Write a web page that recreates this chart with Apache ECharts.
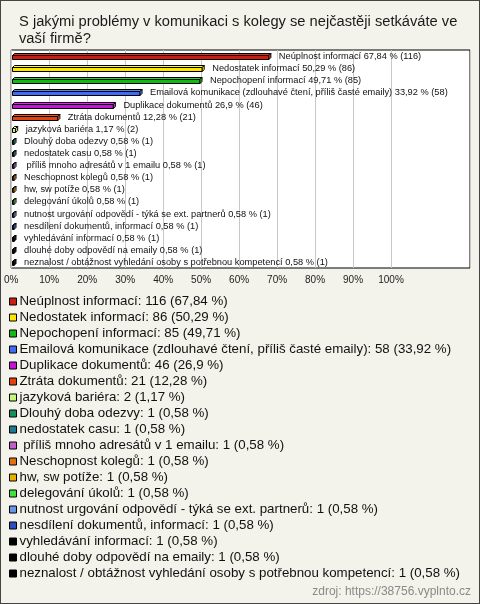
<!DOCTYPE html>
<html>
<head>
<meta charset="utf-8">
<script src="https://cdn.jsdelivr.net/npm/echarts@6/dist/echarts.min.js"></script>
<style>
  html, body { margin: 0; padding: 0; background: #f3f2eb; }
  #main { width: 478px; height: 602px; border: 1px solid #444; background: #f3f2eb; }
</style>
</head>
<body>
<div id="main"></div>
<script>
// odpovědi a počty
var answers = [
  'Neúplnost informací',
  'Nedostatek informací',
  'Nepochopení informací',
  'Emailová komunikace (zdlouhavé čtení, příliš časté emaily)',
  'Duplikace dokumentů',
  'Ztráta dokumentů',
  'jazyková bariéra',
  'Dlouhý doba odezvy',
  'nedostatek casu',
  ' příliš mnoho adresátů v 1 emailu',
  'Neschopnost kolegů',
  'hw, sw potíže',
  'delegování úkolů',
  'nutnost urgování odpovědí - týká se ext. partnerů',
  'nesdílení dokumentů, informací',
  'vyhledávání informací',
  'dlouhé doby odpovědí na emaily',
  'neznalost / obtážnost vyhledání osoby s potřebnou kompetencí'
];
var counts = [116, 86, 85, 58, 46, 21, 2, 1, 1, 1, 1, 1, 1, 1, 1, 1, 1, 1];
var percents = [67.84, 50.29, 49.71, 33.92, 26.9, 12.28, 1.17, 0.58, 0.58, 0.58, 0.58, 0.58, 0.58, 0.58, 0.58, 0.58, 0.58, 0.58];
var colors = [
  '#c8200e', '#ffe600', '#14b814', '#3f6cf0', '#c414d8', '#e2400c',
  '#c2f77a', '#16905a', '#1e7890', '#c45ec8', '#e27010', '#e6b000',
  '#44e03a', '#6a96e6', '#2a4fbf', '#000000', '#000000', '#000000'
];
var tickValues = [0, 10, 20, 30, 40, 50, 60, 70, 80, 90, 100];

function fmt(n) {
  return String(n).replace('.', ',');
}

function renderBar(params, api) {
  var i = params.seriesIndex;
  var v = api.value(0);
  var cat = api.value(1);
  var start = api.coord([0, cat]);
  var end = api.coord([v, cat]);
  var d = 2;
  var x0 = Math.round(start[0]) + 1.5;
  var x1 = Math.max(end[0], x0 + 1.5);
  var cy = Math.round(start[1]);
  var top = cy - 0.5;
  var bot = cy + 3.5;
  var c = colors[i];
  var topColor = c === '#000000' ? '#444' : echarts.color.lift(c, -0.25);
  var sideColor = c === '#000000' ? '#222' : echarts.color.lift(c, 0.25);
  var stroke = { stroke: '#000', lineWidth: 1 };
  return {
    type: 'group',
    children: [
      { type: 'rect', shape: { x: x0, y: top, width: x1 - x0, height: bot - top },
        style: Object.assign({ fill: c }, stroke) },
      { type: 'polygon', shape: { points: [[x0, top], [x0 + d, top - d], [x1 + d, top - d], [x1, top]] },
        style: Object.assign({ fill: topColor }, stroke) },
      { type: 'polygon', shape: { points: [[x1, top], [x1 + d, top - d], [x1 + d, bot - d], [x1, bot]] },
        style: Object.assign({ fill: sideColor }, stroke) },
      { type: 'text', x: x1 + d + 8, y: cy + 0.5,
        style: {
          text: answers[i] + ' ' + fmt(percents[i]) + ' % (' + counts[i] + ')',
          font: '9.25px "Liberation Sans", Arial, sans-serif',
          fill: '#111', verticalAlign: 'middle', align: 'left'
        } }
    ]
  };
}

var chart = echarts.init(document.getElementById('main'));

var series = answers.map(function (name, i) {
  return {
    name: name,
    type: 'custom',
    renderItem: renderBar,
    itemStyle: { color: colors[i] },
    encode: { x: 0, y: 1 },
    data: [[percents[i], i]]
  };
});

var option = {
  animation: false,
  backgroundColor: '#f3f2eb',
  textStyle: { fontFamily: '"Liberation Sans", Arial, sans-serif' },
  title: [
    {
      text: 'S jakými problémy v komunikaci s kolegy se nejčastěji setkáváte ve\nvaší firmě?',
      left: 13,
      top: 7,
      textStyle: { fontSize: 14.7, lineHeight: 17, fontWeight: 'normal', color: '#1a1a1a' }
    },
    {
      text: 'zdroj: https://38756.vyplnto.cz',
      right: 3,
      bottom: 0,
      textStyle: { fontSize: 12, fontWeight: 'normal', color: '#8a8a8a' }
    }
  ],
  grid: {
    left: 10,
    top: 49,
    width: 459,
    height: 218,
    show: true,
    backgroundColor: '#ffffff',
    borderColor: '#000',
    borderWidth: 1
  },
  xAxis: {
    type: 'value',
    min: 0,
    max: 120.8,
    interval: 10,
    axisLine: { show: false },
    axisTick: { show: false },
    axisLabel: {
      margin: 7,
      fontSize: 10,
      color: '#222',
      showMaxLabel: false,
      formatter: function (v) {
        return tickValues.indexOf(v) >= 0 ? v + '%' : '';
      }
    },
    splitLine: {
      show: true,
      lineStyle: {
        color: tickValues.map(function () { return '#c8c8c8'; }).concat(['rgba(0,0,0,0)', 'rgba(0,0,0,0)'])
      }
    }
  },
  yAxis: {
    type: 'category',
    data: answers,
    inverse: true,
    axisLine: { show: false },
    axisTick: { show: false },
    axisLabel: { show: false },
    splitLine: { show: false }
  },
  legend: {
    orient: 'vertical',
    left: 8,
    top: 294,
    padding: 0,
    itemWidth: 7,
    itemHeight: 7,
    itemGap: 3,
    icon: 'rect',
    selectedMode: false,
    itemStyle: { borderColor: '#000', borderWidth: 1 },
    textStyle: { fontSize: 13.3, lineHeight: 13, color: '#111', padding: [0, 0, 0, -2] },
    data: answers,
    formatter: function (name) {
      var i = answers.indexOf(name);
      return name + ': ' + counts[i] + ' (' + fmt(percents[i]) + ' %)';
    }
  },
  series: series
};

chart.setOption(option);
</script>
</body>
</html>
